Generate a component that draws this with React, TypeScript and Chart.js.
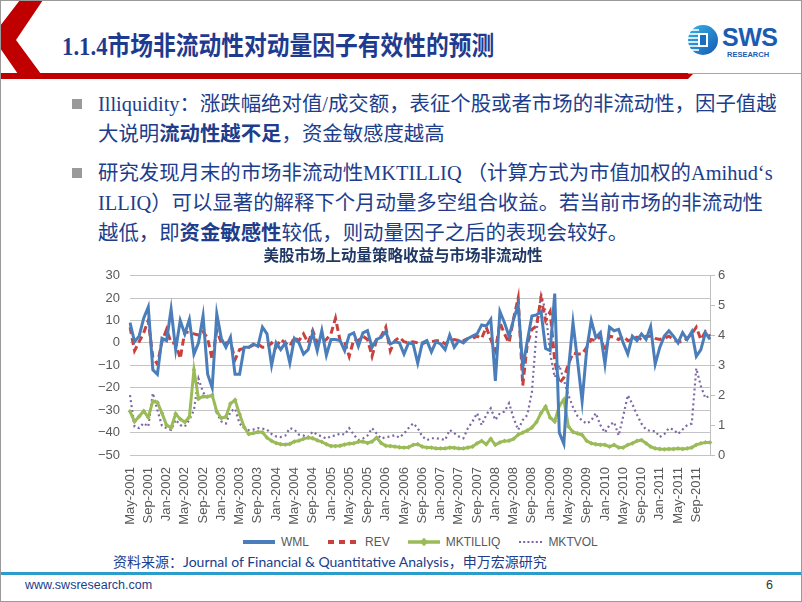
import React, { useEffect, useRef } from "react";
import { Chart, registerables } from "chart.js";
Chart.register(...registerables);

const MONTH_NAMES = ["Jan", "Feb", "Mar", "Apr", "May", "Jun", "Jul", "Aug", "Sep", "Oct", "Nov", "Dec"];
const START_YEAR = 2001;
const START_MONTH_INDEX = 4;
const MONTH_COUNT = 128;
const TICK_EVERY = 4;

const CATEGORIES: string[] = Array.from({ length: MONTH_COUNT }, (_, i) => {
  const k = START_MONTH_INDEX + i;
  return `${MONTH_NAMES[k % 12]}-${START_YEAR + Math.floor(k / 12)}`;
});

const CHART_TITLE = "美股市场上动量策略收益与市场非流动性";
const SERIES_NAMES = ["WML", "REV", "MKTILLIQ", "MKTVOL"];

const WML = [
  9, 0.5, 3, 11, 16, -12, -14, 2, 1, 15,
  -3, 10, 4, 10.5, -5, 0, 12, -14, -20, 13,
  2, -2, 2.5, -14, -14, -2, -2, -0.5, -1.5,
  7, 4, -10, 0, -3, 0, -9, 2, 0, -5,
  -3, 4.5, -3.5, 5.5, -5.5, 1.5, 1.5, 1, -3.5, 3.5,
  4.5, -1.5, 4.5, 5.5, -2, 1.5, 2.5, 5, -0.5, 0.5,
  0, -5,
  0, -0.5, -9, 0, 1, -4, 0.5, -0.5, -3, 3.5,
  -2, 1, 0, 2, 3, 4, 8, 7.5, 10.5, -17,
  14, 9, 3, 10.5, 17, -11, 1, 12, 12.5, 14,
  -2.5, -3.5, 22, -40, -45, -12, 9, -8, -26, -3,
  10, 2.4, 4.6, -9.5, 7, 5.4, 6, 0, -5, 3,
  1, 4, 1.5, 7.3, -9.5, -2, 3, 5.4, 3, 0,
  4.6, 1.5, 5, -6, -3, 4.6, 1.6,
];

const REV = [
  7, -3.5, 0.5, 4.5, 10, -6.5, -9.5, 0.5, 6, 0,
  0, -7, 5, 4.5, 4, 3.5, 5, 2, -7.5, 5.5,
  0, 0, 0.5, -7.5, -3, -2.5, -2, -1, -0.5,
  -2, -2, 0, -2, 1.5, 0, -1.5, 2.5, 1, 4,
  0, 5.5, 0, 0, 1.5, 4, 11, 1, 0.5, -6,
  1.5, 1, 3, 1.5, -6, 1.5, 3, 7, -3.5, 1,
  2.5, 0.5,
  0, 0.5, 0, -0.5, 0.5, 0.5, 1, 1, -0.5, 1,
  1.5, 1, 1, 2, 2, 3, 2, 7, 1.5, -3.5,
  9, 4, 0, 11, 20, -19, -0.5, 6, 7.5, 20,
  10, 14, -8, -18, -15.5, -9.5, -4.5, -5, -5, -2,
  1.5, 1, 3, -4, 3, 2.5, 1.5, 3, 1, 1.5,
  2.5, 1.5, 3, 3, 2, 1.5, 2, 3, 1.5, 0.5,
  0.5, 2, 4, 7, 1.5, 5, 3,
];

const MKTILLIQ = [
  1.46, 1.12, 1.29, 1.47, 1.26, 1.8, 1.76, 1.4, 1.0, 0.91,
  1.38, 1.2, 1.1, 1.27, 2.85, 1.88, 1.96, 1.95, 2.0, 1.46,
  1.23, 1.28, 1.72, 1.84, 1.36, 0.93, 0.7, 0.73, 0.77,
  0.76, 0.58, 0.47, 0.4, 0.36, 0.35, 0.37, 0.45, 0.48, 0.54,
  0.58, 0.56, 0.49, 0.44, 0.36, 0.3, 0.3, 0.31, 0.35, 0.38,
  0.39, 0.44, 0.45, 0.4, 0.45, 0.58, 0.4, 0.31, 0.3, 0.28,
  0.26, 0.25,
  0.26, 0.34, 0.36, 0.28, 0.25, 0.25, 0.22, 0.22, 0.22, 0.25,
  0.24, 0.22, 0.22, 0.25, 0.28, 0.39, 0.47, 0.36, 0.54, 0.34,
  0.42, 0.47, 0.48, 0.54, 0.68, 0.75, 0.82, 0.92, 1.1, 1.4,
  1.62, 1.25, 1.12, 1.65, 1.85, 0.95, 0.77, 0.72, 0.67, 0.47,
  0.39, 0.36, 0.34, 0.34, 0.28, 0.34, 0.25, 0.25, 0.34, 0.39,
  0.47, 0.5, 0.39, 0.28, 0.22, 0.2, 0.19, 0.2, 0.2, 0.22,
  0.2, 0.22, 0.25, 0.34, 0.39, 0.42, 0.42,
];

const MKTVOL = [
  2.0, 0.95, 0.9, 1.07, 0.95, 2.07, 1.5, 0.98, 0.9, 0.84,
  1.18, 1.0, 0.95, 1.18, 1.5, 2.55, 2.1, 1.9, 2.0, 1.4,
  1.12, 1.05, 1.45, 1.55, 1.05, 0.9, 0.83, 0.85, 0.9,
  0.88, 0.85, 0.7, 0.62, 0.6, 0.65, 0.9, 0.85, 0.68, 0.65,
  0.6, 0.78, 0.68, 0.62, 0.55, 0.63, 0.65, 0.72, 0.68, 0.9,
  0.68, 0.5, 0.55, 0.65, 0.9, 0.72, 0.55, 0.6, 0.62, 0.66,
  0.58, 0.72,
  0.9, 1.06, 0.9, 0.62, 0.5, 0.56, 0.56, 0.54, 0.5, 0.84,
  0.73, 0.62, 0.56, 0.9, 1.12, 1.4, 1.0, 1.34, 1.56, 1.17,
  1.4, 1.45, 1.73, 1.23, 0.84, 1.17, 1.34, 2.1, 4.1, 5.4,
  4.8, 3.4, 2.6, 3.0, 2.5, 2.0, 1.6, 1.3, 1.15, 1.05,
  1.15, 1.4, 1.0, 0.75, 1.0, 1.1, 0.65, 1.3, 2.0, 1.7,
  1.35, 1.05, 0.85, 0.8, 0.8, 0.6, 0.7, 0.9, 0.85, 0.7,
  0.85, 1.0, 1.05, 2.9, 2.3, 1.9, 2.0,
];

const LEFT_MIN = -50, LEFT_MAX = 30, LEFT_STEP = 10;
const RIGHT_MIN = 0, RIGHT_MAX = 6, RIGHT_STEP = 1;

const BLUE = "#4a7ebb";
const RED = "#c9403d";
const GREEN = "#9bbb59";
const PURPLE = "#7d68a6";
const TICK_COLOR = "#595959";
const NAVY = "#203d8c";
const TICK_FONT = { family: '"Liberation Sans", Arial, sans-serif', size: 13 };

const fmt = (v: any) => {
  const n = Number(v);
  return n < 0 ? "\u2212" + Math.abs(n) : String(n);
};

function LegendSample({ kind }: { kind: number }) {
  const w = 32;
  if (kind === 0)
    return (
      <svg width={w} height={10}><line x1={0} y1={5} x2={w} y2={5} stroke={BLUE} strokeWidth={4} strokeLinecap="round" /></svg>
    );
  if (kind === 1)
    return (
      <svg width={w} height={10}><line x1={1} y1={5} x2={w} y2={5} stroke={RED} strokeWidth={4} strokeDasharray="6 5" /></svg>
    );
  if (kind === 2)
    return (
      <svg width={w} height={10}>
        <line x1={0} y1={5} x2={w} y2={5} stroke={GREEN} strokeWidth={3.5} />
        <rect x={w / 2 - 3} y={2} width={6} height={6} fill={GREEN} transform={`rotate(45 ${w / 2} 5)`} />
      </svg>
    );
  return (
    <svg width={w - 8} height={10}><line x1={1} y1={5} x2={w - 8} y2={5} stroke={PURPLE} strokeWidth={2.2} strokeDasharray="2 2.2" /></svg>
  );
}

export default function App() {
  const canvasRef = useRef<HTMLCanvasElement>(null);

  useEffect(() => {
    const el = canvasRef.current;
    if (!el) return;
    const chart = new Chart(el, {
      type: "line",
      data: {
        labels: CATEGORIES,
        datasets: [
          { label: SERIES_NAMES[0], data: WML, borderColor: BLUE, backgroundColor: BLUE, borderWidth: 3, pointRadius: 0, tension: 0, yAxisID: "y" },
          { label: SERIES_NAMES[1], data: REV, borderColor: RED, backgroundColor: RED, borderWidth: 3, borderDash: [7, 4], pointRadius: 0, tension: 0, yAxisID: "y" },
          { label: SERIES_NAMES[2], data: MKTILLIQ, borderColor: GREEN, backgroundColor: GREEN, borderWidth: 3, pointStyle: "rectRot", pointRadius: 2.4, pointBorderWidth: 0, pointBackgroundColor: GREEN, tension: 0, yAxisID: "y1" },
          { label: SERIES_NAMES[3], data: MKTVOL, borderColor: PURPLE, backgroundColor: PURPLE, borderWidth: 2.2, borderDash: [2, 3], pointRadius: 0, tension: 0, yAxisID: "y1" },
        ],
      },
      options: {
        animation: false,
        responsive: false,
        devicePixelRatio: 1,
        layout: { padding: 0 },
        plugins: {
          legend: { display: false },
          tooltip: { enabled: false },
          title: {
            display: true,
            text: CHART_TITLE,
            color: "#1f3864",
            font: { family: '"Noto Sans CJK SC", sans-serif', size: 15.5, weight: "bold" },
            padding: { top: 4, bottom: 11 },
          },
        },
        scales: {
          x: {
            grid: { display: false },
            border: { display: false },
            ticks: {
              autoSkip: false,
              maxRotation: 90,
              minRotation: 90,
              padding: 4,
              color: TICK_COLOR,
              font: TICK_FONT,
              callback: (_v: any, i: number) => (i % TICK_EVERY === 0 ? CATEGORIES[i] : ""),
            },
            afterFit: (s: any) => { s.height = 77; },
          },
          y: {
            position: "left",
            min: LEFT_MIN,
            max: LEFT_MAX,
            ticks: { stepSize: LEFT_STEP, padding: 10, color: TICK_COLOR, font: TICK_FONT, callback: fmt },
            grid: { color: "#c4c4c4", drawTicks: false, lineWidth: 1 },
            border: { display: false },
            afterFit: (s: any) => { s.width = 70; },
          },
          y1: {
            position: "right",
            min: RIGHT_MIN,
            max: RIGHT_MAX,
            ticks: { stepSize: RIGHT_STEP, padding: 3, color: TICK_COLOR, font: TICK_FONT, callback: fmt },
            grid: { drawOnChartArea: false, color: "#bfbfbf", tickLength: 5 },
            border: { display: true, color: "#bfbfbf" },
            afterFit: (s: any) => { s.width = 36; },
          },
        },
      },
    } as any);
    return () => chart.destroy();
  }, []);

  const bodyFont = '"Liberation Serif", "Noto Sans CJK SC", serif';
  const line: React.CSSProperties = { height: 30, lineHeight: "30px", whiteSpace: "nowrap" };

  return (
    <div style={{ position: "fixed", left: 0, top: 0, width: 802, height: 602, background: "#fff", overflow: "hidden" }}>
      <svg width={802} height={602} style={{ position: "absolute", left: 0, top: 0 }}>
        <polygon points="20,0 43,0 16,40 41,74 18,74 0,48 0,26" fill="#c00000" />
        <polygon points="0,73 694,73 688,79 0,79" fill="#c00000" />
        <line x1={688} y1={73.5} x2={802} y2={73.5} stroke="#a6a6a6" strokeWidth={1} />
        <rect x={0} y={572} width={802} height={3} fill="#2b9dcc" />
        <rect x={0.5} y={0.5} width={801} height={601} fill="none" stroke="#9a9a9a" strokeWidth={1} />
        <defs>
          <linearGradient id="lg" x1="0" y1="0" x2="1" y2="1">
            <stop offset="0" stopColor="#36b4ea" />
            <stop offset="1" stopColor="#1659b0" />
          </linearGradient>
        </defs>
        <circle cx={703} cy={40} r={15} fill="url(#lg)" />
        {[30, 34, 38, 42, 46, 50].map((y) => (
          <line key={y} x1={688} y1={y} x2={699} y2={y} stroke="#fff" strokeWidth={1.6} />
        ))}
        <rect x={698} y={33} width={10} height={14} fill="#fff" />
        <rect x={700} y={35} width={6} height={10} fill="#1c6fc0" />
        <rect x={72} y={99} width={10} height={10} fill="#9a9a9a" />
        <rect x={72} y={168} width={10} height={10} fill="#9a9a9a" />
      </svg>

      <div style={{ position: "absolute", left: 722, top: 24, fontFamily: '"Liberation Sans", Arial, sans-serif', fontWeight: 700, fontSize: 25, color: "#1a5cb2", letterSpacing: -0.5, lineHeight: "26px" }}>SWS</div>
      <div style={{ position: "absolute", left: 727, top: 50, fontFamily: '"Liberation Sans", Arial, sans-serif', fontWeight: 700, fontSize: 7.5, color: "#1a5cb2", lineHeight: "9px" }}>RESEARCH</div>

      <div style={{ position: "absolute", left: 62, top: 32, fontFamily: '"Liberation Serif", "Noto Sans CJK SC", serif', fontWeight: 700, fontSize: 26, lineHeight: "30px", color: "#1f3b8f", whiteSpace: "nowrap", transform: "scaleX(0.875)", transformOrigin: "left center" }}>
        1.1.4市场非流动性对动量因子有效性的预测
      </div>

      <div style={{ position: "absolute", left: 98, top: 89, fontFamily: bodyFont, fontSize: 20.4, color: NAVY }}>
        <div style={line}>Illiquidity：涨跌幅绝对值/成交额，表征个股或者市场的非流动性，因子值越</div>
        <div style={line}>大说明<b>流动性越不足</b>，资金敏感度越高</div>
      </div>
      <div style={{ position: "absolute", left: 98, top: 158, fontFamily: bodyFont, fontSize: 20.4, color: NAVY }}>
        <div style={line}>研究发现月末的市场非流动性MKTILLIQ （计算方式为市值加权的Amihud‘s</div>
        <div style={line}>ILLIQ）可以显著的解释下个月动量多空组合收益。若当前市场的非流动性</div>
        <div style={line}>越低，即<b>资金敏感性</b>较低，则动量因子之后的表现会较好。</div>
      </div>

      <canvas ref={canvasRef} width={686} height={290} style={{ position: "absolute", left: 60, top: 242, width: 686, height: 290 }} />

      <div style={{ position: "absolute", left: 243, top: 534, display: "flex", alignItems: "center", height: 16, fontFamily: '"Liberation Sans", Arial, sans-serif', fontSize: 12, color: TICK_COLOR, whiteSpace: "nowrap" }}>
        {SERIES_NAMES.map((n, k) => (
          <span key={n} style={{ display: "flex", alignItems: "center", marginRight: 18 }}>
            <LegendSample kind={k} />
            <span style={{ marginLeft: 6 }}>{n}</span>
          </span>
        ))}
      </div>

      <div style={{ position: "absolute", left: 113, top: 553, fontFamily: 'Lato, "Noto Sans CJK SC", sans-serif', fontSize: 14, lineHeight: "18px", color: NAVY, whiteSpace: "nowrap" }}>
        资料来源：Journal of Financial &amp; Quantitative Analysis，申万宏源研究
      </div>

      <div style={{ position: "absolute", left: 25, top: 577, fontFamily: '"Liberation Sans", Arial, sans-serif', fontSize: 12.5, lineHeight: "16px", color: NAVY }}>www.swsresearch.com</div>
      <div style={{ position: "absolute", left: 766, top: 577, fontFamily: '"Liberation Sans", Arial, sans-serif', fontSize: 12.5, lineHeight: "16px", color: "#333" }}>6</div>
    </div>
  );
}
